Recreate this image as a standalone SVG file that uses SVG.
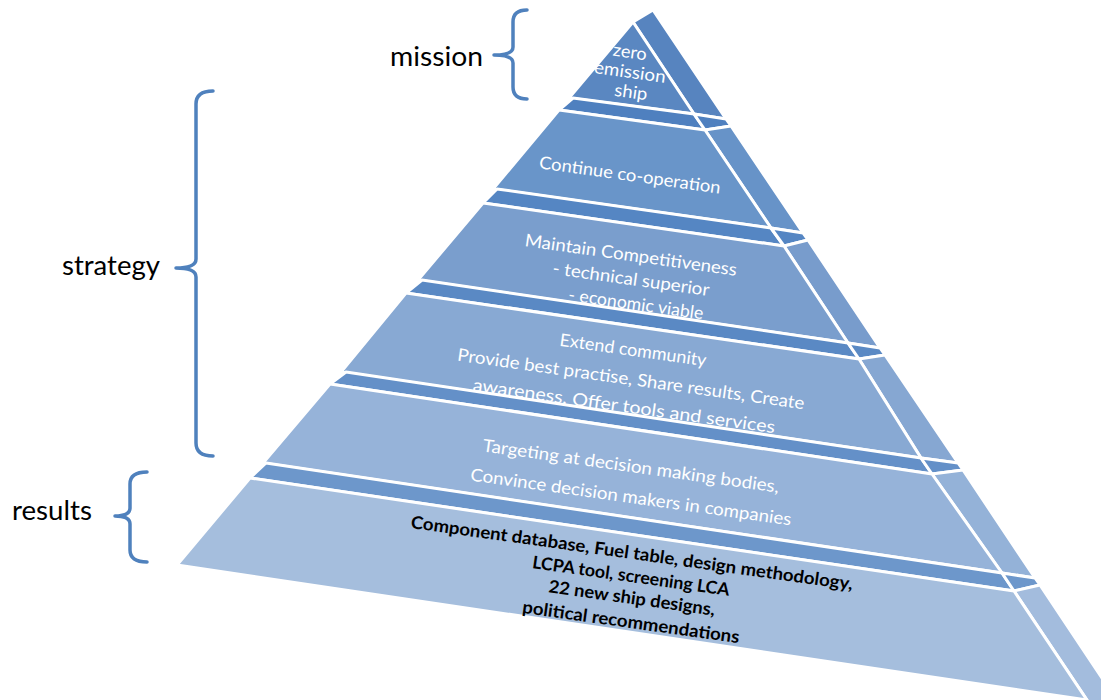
<svg xmlns="http://www.w3.org/2000/svg" width="1101" height="700" viewBox="0 0 1101 700">
<style>
.f{stroke:#fff;stroke-width:3;stroke-linejoin:round}
.wt{font-family:Lato,"Liberation Sans",sans-serif;font-size:17.5px;fill:#fff;text-anchor:middle}
.bk{font-family:Lato,"Liberation Sans",sans-serif;font-size:17.5px;font-weight:bold;fill:#000;text-anchor:middle}
.lbl{font-family:Lato,"Liberation Sans",sans-serif;font-size:26px;fill:#000}
.brace{fill:none;stroke:#4f81bd;stroke-width:3.5;stroke-linecap:round;stroke-linejoin:round}
</style>
<rect width="1101" height="700" fill="#fff"/>
<g id="slab1">
<polygon class="f" fill="#5784bf" points="633,22 653,10 726,119 694,114"/>
<polygon class="f" fill="#5a87c1" points="633,22 569,98 694,114"/>
<text class="wt" x="630" y="58" transform="rotate(8 630 52)" textLength="34" lengthAdjust="spacingAndGlyphs">zero</text>
<text class="wt" x="630" y="78" transform="rotate(8 630 72)" textLength="72" lengthAdjust="spacingAndGlyphs">emission</text>
<text class="wt" x="631" y="98" transform="rotate(8 631 92)" textLength="33" lengthAdjust="spacingAndGlyphs">ship</text>
</g>
<g id="slab2">
<polygon class="f" fill="#4f80bf" points="573,98 694,114 705,130 559,110"/>
<polygon class="f" fill="#4f80bf" points="694,114 726,119 731,126 705,130"/>
<polygon class="f" fill="#6793c8" points="705,130 731,126 803,233 771,228"/>
<polygon class="f" fill="#6995c9" points="559,110 705,130 771,228 493,189"/>
<text class="wt" x="630" y="181" transform="rotate(8 630 175)" textLength="183" lengthAdjust="spacingAndGlyphs">Continue co-operation</text>
</g>
<g id="slab3">
<polygon class="f" fill="#5586c3" points="497,189 771,228 784,246 483,203"/>
<polygon class="f" fill="#5586c3" points="771,228 803,233 808,240 784,246"/>
<polygon class="f" fill="#789ccc" points="784,246 808,240 880,348 848,343"/>
<polygon class="f" fill="#7a9ecd" points="483,203 784,246 848,343 418,280"/>
<text class="wt" x="631" y="261" transform="rotate(8 631 255)" textLength="214" lengthAdjust="spacingAndGlyphs">Maintain Competitiveness</text>
<text class="wt" x="631" y="285" transform="rotate(8 631 279)" textLength="158" lengthAdjust="spacingAndGlyphs">- technical superior</text>
<text class="wt" x="636" y="310" transform="rotate(8 636 304)" textLength="136" lengthAdjust="spacingAndGlyphs">- economic viable</text>
</g>
<g id="slab4">
<polygon class="f" fill="#5a89c4" points="422,280 848,343 859,359 406,293"/>
<polygon class="f" fill="#5a89c4" points="848,343 880,348 885,355 859,359"/>
<polygon class="f" fill="#86a7d2" points="859,359 885,355 958,463 921,458"/>
<polygon class="f" fill="#88a9d3" points="406,293 859,359 921,458 341,372"/>
<text class="wt" x="633" y="356" transform="rotate(8 633 350)" textLength="148" lengthAdjust="spacingAndGlyphs">Extend community</text>
<text class="wt" x="631" y="385" transform="rotate(8 631 379)" textLength="350" lengthAdjust="spacingAndGlyphs">Provide best practise, Share results, Create</text>
<text class="wt" x="624" y="412" transform="rotate(8 624 406)" textLength="305" lengthAdjust="spacingAndGlyphs">awareness, Offer tools and services</text>
</g>
<g id="slab5">
<polygon class="f" fill="#6490c8" points="346,372 921,458 932,474 330,384"/>
<polygon class="f" fill="#6490c8" points="921,458 958,463 963,470 932,474"/>
<polygon class="f" fill="#94b2d8" points="932,474 963,470 1035,578 1002,573"/>
<polygon class="f" fill="#96b3d9" points="330,384 932,474 1002,573 263,463"/>
<text class="wt" x="631" y="472" transform="rotate(8 631 466)" textLength="299" lengthAdjust="spacingAndGlyphs">Targeting at decision making bodies,</text>
<text class="wt" x="631" y="503" transform="rotate(8 631 497)" textLength="324" lengthAdjust="spacingAndGlyphs">Convince decision makers in companies</text>
</g>
<g id="slab6">
<polygon class="f" fill="#6d97cb" points="266,463 1002,573 1014,591 250,478"/>
<polygon class="f" fill="#6d97cb" points="1002,573 1035,578 1040,585 1014,591"/>
<polygon class="f" fill="#a3bcdd" points="1014,591 1040,585 1150,750 1100,750 1087,700"/>
<polygon class="f" fill="#a5bedd" points="250,478 1014,591 1087,700 177,565"/>
<text class="bk" x="632" y="559" transform="rotate(8 632 553)" textLength="446" lengthAdjust="spacingAndGlyphs">Component database, Fuel table, design methodology,</text>
<text class="bk" x="631" y="582" transform="rotate(8 631 576)" textLength="199" lengthAdjust="spacingAndGlyphs">LCPA tool, screening LCA</text>
<text class="bk" x="632" y="604" transform="rotate(8 632 598)" textLength="168" lengthAdjust="spacingAndGlyphs">22 new ship designs,</text>
<text class="bk" x="631" y="628" transform="rotate(8 631 622)" textLength="219" lengthAdjust="spacingAndGlyphs">political recommendations</text>
</g>
<g id="connectors">
<path class="brace" d="M527,10 Q513,10 513,22 L513,47 Q513,55 494,55 Q513,55 513,63 L513,87 Q513,99 527,99"/>
<path class="brace" d="M213,91 Q196,91 196,104 L196,259 Q196,268 176,268 Q196,268 196,277 L196,443 Q196,456 213,456"/>
<path class="brace" d="M147,472 Q130,472 130,484 L130,508 Q130,516 115,516 Q130,516 130,524 L130,550 Q130,562 147,562"/>
</g>
<g id="label-mission"><text class="lbl" x="390" y="66" textLength="93" lengthAdjust="spacingAndGlyphs">mission</text></g>
<g id="label-strategy"><text class="lbl" x="62" y="275" textLength="98" lengthAdjust="spacingAndGlyphs">strategy</text></g>
<g id="label-results"><text class="lbl" x="12" y="520" textLength="80" lengthAdjust="spacingAndGlyphs">results</text></g>
</svg>
